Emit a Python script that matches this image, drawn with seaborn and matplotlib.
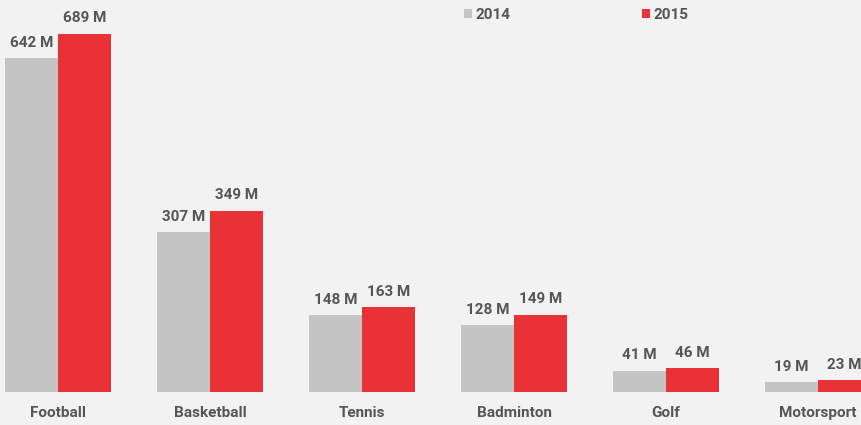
import matplotlib
matplotlib.use("Agg")
import matplotlib.pyplot as plt
import seaborn as sns
import pandas as pd

sports = ["Football", "Basketball", "Tennis", "Badminton", "Golf", "Motorsport"]
years = ["2014", "2015"]
values_2014 = [642, 307, 148, 128, 41, 19]
values_2015 = [689, 349, 163, 149, 46, 23]

df = pd.DataFrame({
    "sport": sports * 2,
    "year": [years[0]] * len(sports) + [years[1]] * len(sports),
    "value": values_2014 + values_2015,
})

sns.set_theme(style="white")
plt.rcParams["font.family"] = ["Roboto", "DejaVu Sans"]

bg = "#f2f2f2"
txt = "#555555"
fig = plt.figure(figsize=(8.61, 4.25), dpi=100, facecolor=bg)
ax = fig.add_axes([0, 33 / 425, 1, 392 / 425])
ax.set_facecolor(bg)

sns.barplot(data=df, x="sport", y="value", hue="year", order=sports, hue_order=years,
            palette={"2014": "#c4c4c4", "2015": "#e83236"}, width=0.7,
            saturation=1, ax=ax, errorbar=None, linewidth=0, edgecolor="none")

for cont in ax.containers:
    ax.bar_label(cont, labels=[f"{int(v)} M" for v in cont.datavalues], padding=6,
                 fontsize=11, fontweight="bold", color=txt)

ax.set_ylim(0, 754)
ax.set_xlim(-0.382, 5.283)
ax.set_xlabel("")
ax.set_ylabel("")
ax.set_yticks([])
ax.tick_params(axis="x", length=0, pad=10, labelsize=11, labelcolor=txt)
for lbl in ax.get_xticklabels():
    lbl.set_fontweight("bold")
for s in ax.spines.values():
    s.set_visible(False)

handles, labels = ax.get_legend_handles_labels()
ax.get_legend().remove()
leg = fig.legend(handles, labels, loc="center", bbox_to_anchor=(576 / 861, 1 - 15 / 425),
                 ncol=2, frameon=False, handlelength=0.55, handleheight=0.55,
                 handletextpad=0.2, columnspacing=8.6,
                 prop={"weight": "bold", "size": 11})
for t in leg.get_texts():
    t.set_color(txt)

fig.savefig("out.png", dpi=100, facecolor=bg)
